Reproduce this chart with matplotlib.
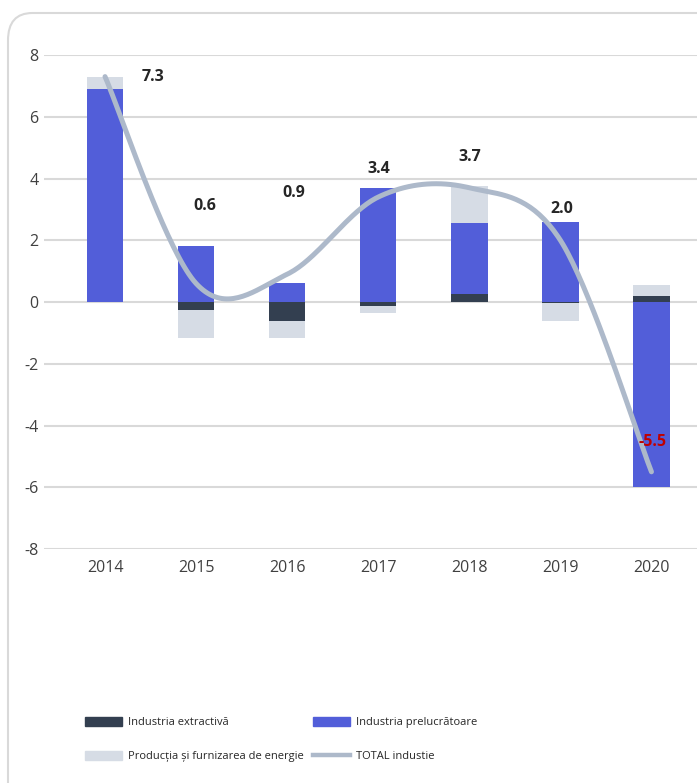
import numpy as np
import matplotlib
matplotlib.use("Agg")
import matplotlib.pyplot as plt
from matplotlib.patches import FancyBboxPatch, Patch
from matplotlib.lines import Line2D

# data
years = ['2014', '2015', '2016', '2017', '2018', '2019', '2020']
extractiva = [0.0, -0.26, -0.6, -0.13, 0.25, -0.03, 0.2]
prelucratoare = [6.9, 1.8, 0.6, 3.7, 2.3, 2.6, -6.0]
energie = [0.4, -0.9, -0.55, -0.22, 1.2, -0.58, 0.35]
total = [7.3, 0.6, 0.9, 3.4, 3.7, 2.0, -5.5]
total_labels = ['7.3', '0.6', '0.9', '3.4', '3.7', '2.0', '-5.5']

c_extr = '#333f50'
c_prel = '#525ed9'
c_ener = '#d6dce5'
c_total = '#adb9ca'

plt.rcParams['font.family'] = ['Open Sans', 'DejaVu Sans']
plt.rcParams['axes.unicode_minus'] = False

fig = plt.figure(figsize=(6.97, 7.83), dpi=100)
# rounded frame around the chart
frame = FancyBboxPatch((8 / 697, -0.05), 1.2, 1 - 13 / 783 + 0.05,
                       boxstyle='round,pad=0,rounding_size=0.035',
                       transform=fig.transFigure, fc='white', ec='#d9d9d9',
                       lw=1.5, zorder=-5)
fig.patches.append(frame)

ax = fig.add_axes([44 / 697, 1 - 549 / 783, 653 / 697, 494 / 783])
ax.set_facecolor('none')
ax.set_zorder(2)
x = np.arange(len(years))
w = 0.4

pos_base = np.zeros(len(years))
neg_base = np.zeros(len(years))
for vals, col in [(extractiva, c_extr), (prelucratoare, c_prel), (energie, c_ener)]:
    v = np.array(vals)
    bottom = np.where(v >= 0, pos_base, neg_base)
    ax.bar(x, v, w, bottom=bottom, color=col, zorder=2)
    pos_base = pos_base + np.where(v >= 0, v, 0)
    neg_base = neg_base + np.where(v < 0, v, 0)

# smoothed total line (excel-like bezier)
t = np.array(total, dtype=float)
px = np.concatenate([[x[0]], x, [x[-1]]]).astype(float)
py = np.concatenate([[t[0]], t, [t[-1]]])
sx, sy = [], []
s = np.linspace(0, 1, 40)
for i in range(1, len(px) - 2):
    p0 = np.array([px[i], py[i]])
    p3 = np.array([px[i + 1], py[i + 1]])
    p1 = p0 + (np.array([px[i + 1], py[i + 1]]) - np.array([px[i - 1], py[i - 1]])) / 6
    p2 = p3 - (np.array([px[i + 2], py[i + 2]]) - np.array([px[i], py[i]])) / 6
    b = ((1 - s) ** 3)[:, None] * p0 + (3 * (1 - s) ** 2 * s)[:, None] * p1 \
        + (3 * (1 - s) * s ** 2)[:, None] * p2 + (s ** 3)[:, None] * p3
    sx.extend(b[:, 0])
    sy.extend(b[:, 1])
ax.plot(sx, sy, color=c_total, lw=3.6, solid_capstyle='round', zorder=3)

# value labels
lab_x = [0.53, 1.1, 2.07, 3.01, 4.01, 5.02, 6.01]
lab_y = [7.3, 3.1, 3.53, 4.3, 4.7, 3.0, -4.53]
for i, txt in enumerate(total_labels):
    col = '#c00000' if total[i] < 0 else '#262626'
    ax.text(lab_x[i], lab_y[i], txt, ha='center', va='center', fontsize=11.5,
            fontweight='bold', color=col, zorder=4)

ax.set_xlim(-0.67, 6.5)
ax.set_ylim(-8, 8)
ax.set_yticks(np.arange(-8, 9, 2))
ax.set_xticks(x)
ax.set_xticklabels(years)
ax.grid(axis='y', color='#d9d9d9', lw=1.5, zorder=0)
ax.set_axisbelow(True)
for sp in ax.spines.values():
    sp.set_visible(False)
ax.tick_params(axis='both', length=0, labelsize=11.5, colors='#404040', pad=8)
ax.tick_params(axis='y', pad=4)

handles = [Patch(color=c_extr, label='Industria extractivă'),
           Patch(color=c_ener, label='Producția și furnizarea de energie'),
           Patch(color=c_prel, label='Industria prelucrătoare'),
           Line2D([], [], color=c_total, lw=3.2, label='TOTAL industie')]
fig.legend(handles=handles, ncol=2, loc='upper left',
           bbox_to_anchor=(85 / 697, 1 - 717 / 783), frameon=False,
           fontsize=8, handlelength=3.3, handleheight=0.9, handletextpad=0.6,
           columnspacing=0.8, labelspacing=2.0, borderpad=0, borderaxespad=0,
           labelcolor='#262626')

fig.savefig('out.png', dpi=100)
